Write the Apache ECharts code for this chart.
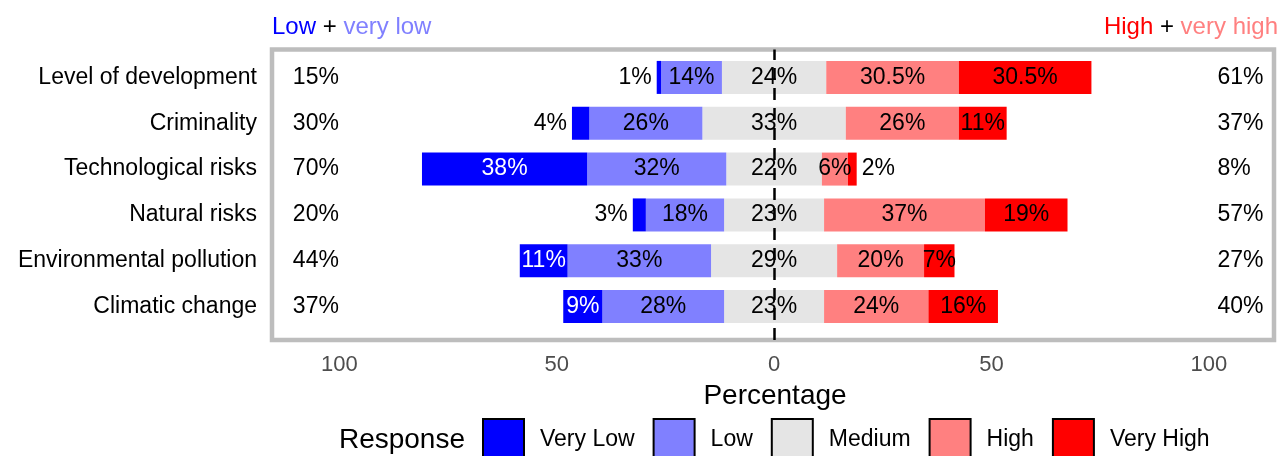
<!DOCTYPE html>
<html><head><meta charset="utf-8">
<script src="https://cdn.jsdelivr.net/npm/echarts@6/dist/echarts.min.js"></script>
<style>html,body{margin:0;padding:0;background:#fff}#c{width:1277px;height:456px}</style>
</head><body><div id="c"></div>
<script>
// ---- data ----
const categories = ['Level of development', 'Criminality', 'Technological risks', 'Natural risks', 'Environmental pollution', 'Climatic change'];
const veryLow  = [1, 4, 38, 3, 11, 9];
const low      = [14, 26, 32, 18, 33, 28];
const medium   = [24, 33, 22, 23, 29, 23];
const high     = [30.5, 26, 6, 37, 20, 24];
const veryHigh = [30.5, 11, 2, 19, 7, 16];
const lowTotals  = [15, 30, 70, 20, 44, 37];
const highTotals = [61, 37, 8, 57, 27, 40];
const tickValues = [-100, -50, 0, 50, 100];
const legendNames = ['Very Low', 'Low', 'Medium', 'High', 'Very High'];

// ---- style ----
const FONT = '"Liberation Sans", Arial, Helvetica, sans-serif';
const C_VLOW = '#0000FF', C_LOW = '#8080FF', C_MED = '#E5E5E5', C_HIGH = '#FF8080', C_VHIGH = '#FF0000';
const X_MIN = -115.5, X_MAX = 115;
const LEFT_TOTAL_X = -110.7, RIGHT_TOTAL_X = 102;
const BAR_W = 33;
const LBL = { fontSize: 23, fontFamily: FONT, color: '#000', opacity: 1 };

const chart = echarts.init(document.getElementById('c'), null, { renderer: 'canvas' });

function barSeries(name, vals, sign, color, labelFn) {
  return {
    type: 'bar', name, stack: 'likert', barWidth: BAR_W,
    xAxisIndex: 0, yAxisIndex: 0, z: 2,
    itemStyle: { color },
    emphasis: { disabled: true },
    label: Object.assign({ show: true, position: 'inside' }, LBL),
    data: vals.map((v, i) => {
      const d = { value: sign * v };
      if (labelFn) d.label = labelFn(v, i);
      return d;
    })
  };
}

const sVeryLow = barSeries('Very Low', veryLow, -1, C_VLOW, (v) =>
  v < 5 ? { show: true, position: 'left', distance: 5, color: '#000', formatter: v + '%' }
        : { show: true, position: 'inside', color: '#fff', formatter: v + '%' });
const sLow = barSeries('Low', low, -1, C_LOW, (v) => ({ show: true, formatter: v + '%' }));
const sMedNeg = barSeries('Medium', medium.map(v => v / 2), -1, C_MED, () => ({ show: false }));
const sMedPos = barSeries('Medium', medium.map(v => v / 2), 1, C_MED, () => ({ show: false }));
const sHigh = barSeries('High', high, 1, C_HIGH, (v) => ({ show: true, formatter: v + '%' }));
const sVeryHigh = barSeries('Very High', veryHigh, 1, C_VHIGH, (v) =>
  v < 5 ? { show: true, position: 'right', distance: 5, color: '#000', formatter: v + '%' }
        : { show: true, position: 'inside', color: '#000', formatter: v + '%' });

function labelScatter(name, vals, xPos, position, z) {
  return {
    type: 'scatter', name, xAxisIndex: 0, yAxisIndex: 0, symbolSize: 0, z, silent: true,
    itemStyle: { opacity: 1 },
    emphasis: { disabled: true },
    label: Object.assign({ show: true, position, distance: 0, formatter: p => vals[p.dataIndex] + '%' }, LBL),
    data: vals.map((v, i) => [xPos, i])
  };
}

const option = {
  animation: false,
  backgroundColor: '#fff',
  textStyle: { fontFamily: FONT },
  grid: [
    { left: 272, width: 1002, top: 54.5, height: 275, containLabel: false, show: false },
    { left: 272, width: 1002, top: 49.5, height: 290.5, show: true, borderColor: '#BDBDBD', borderWidth: 4.5, backgroundColor: 'transparent' }
  ],
  xAxis: [
    { gridIndex: 0, type: 'value', min: X_MIN, max: X_MAX,
      axisLine: { show: false }, axisTick: { show: false }, splitLine: { show: false },
      axisLabel: { customValues: tickValues, formatter: v => String(Math.abs(v)), color: '#4D4D4D', fontSize: 22, margin: 24, fontFamily: FONT } },
    { gridIndex: 1, type: 'value', min: X_MIN, max: X_MAX, show: false, splitLine: { show: false } }
  ],
  yAxis: [
    { gridIndex: 0, type: 'category', data: categories, inverse: true,
      axisLine: { show: false }, axisTick: { show: false }, splitLine: { show: false },
      axisLabel: { color: '#000', fontSize: 23, margin: 15, fontFamily: FONT } },
    { gridIndex: 1, type: 'value', min: 0, max: 1, show: false, splitLine: { show: false } }
  ],
  legend: {
    data: legendNames,
    left: 482, top: 418, padding: 0,
    itemWidth: 41, itemHeight: 41, itemGap: 18,
    icon: 'rect',
    itemStyle: { borderColor: '#000', borderWidth: 2 },
    textStyle: { fontSize: 23, fontFamily: FONT, color: '#000', padding: [0, 0, 0, 11] },
    selectedMode: false
  },
  graphic: [
    { type: 'text', left: 272, top: 15, style: { text: '{a|Low} + {b|very low}', fontSize: 24, fontFamily: FONT, fill: '#000',
        rich: { a: { fill: '#0000FF', fontSize: 24, fontFamily: FONT }, b: { fill: '#8080FF', fontSize: 24, fontFamily: FONT } } } },
    { type: 'text', right: -1, top: 15, style: { text: '{a|High} + {b|very high}', fontSize: 24, fontFamily: FONT, fill: '#000',
        rich: { a: { fill: '#FF0000', fontSize: 24, fontFamily: FONT }, b: { fill: '#FF8080', fontSize: 24, fontFamily: FONT } } } },
    { type: 'text', x: 775, y: 396, style: { text: 'Percentage', fontSize: 28, fontFamily: FONT, fill: '#000', align: 'center', verticalAlign: 'middle' } },
    { type: 'text', x: 465, y: 440, style: { text: 'Response', fontSize: 28, fontFamily: FONT, fill: '#000', align: 'right', verticalAlign: 'middle' } }
  ],
  series: [
    sMedNeg, sLow, sVeryLow, sMedPos, sHigh, sVeryHigh,
    { type: 'line', name: 'zero', xAxisIndex: 1, yAxisIndex: 1, data: [], z: 3, silent: true,
      markLine: { silent: true, z: 3, symbol: ['none', 'none'], animation: false, label: { show: false },
        lineStyle: { color: '#000', width: 2.5, type: [12, 8] }, data: [{ xAxis: 0 }] } },
    labelScatter('medLabels', medium, 0, 'inside', 10),
    labelScatter('lowTotals', lowTotals, LEFT_TOTAL_X, 'right', 10),
    labelScatter('highTotals', highTotals, RIGHT_TOTAL_X, 'right', 10)
  ]
};
chart.setOption(option);
</script>
</body></html>
